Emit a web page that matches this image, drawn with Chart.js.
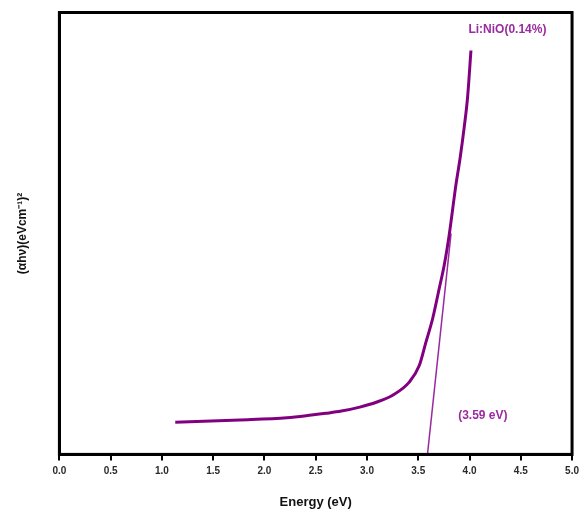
<!DOCTYPE html>
<html>
<head>
<meta charset="utf-8">
<script src="https://cdn.jsdelivr.net/npm/chart.js@4"></script>
<style>
html,body{margin:0;padding:0;background:#fff;}
#wrap{width:584px;height:514px;position:relative;}
</style>
</head>
<body>
<div id="wrap"><canvas id="c" width="584" height="514"></canvas></div>
<script>
// Energy (eV) and (αhν)^2 in arbitrary units
const energy = [1.13, 1.76, 2.22, 2.46, 2.60, 2.75, 2.93, 3.09, 3.25, 3.41, 3.51, 3.575, 3.64, 3.705, 3.754, 3.80, 3.868, 3.909, 3.948, 3.981, 4.014];
const absorb = [7.3, 7.8, 8.3, 8.9, 9.3, 9.8, 10.7, 11.8, 13.4, 16.3, 20.1, 25.4, 30.7, 37.6, 42.9, 49.4, 61.1, 67.2, 74.0, 80.8, 91.4];
const tangentX = [3.59, 3.82];
const tangentY = [0, 50];
const xTicks = [0, 0.5, 1, 1.5, 2, 2.5, 3, 3.5, 4, 4.5, 5];
const seriesLabel = 'Li:NiO(0.14%)';
const gapLabel = '(3.59 eV)';

const purple = '#800080';
const FONT = "'Liberation Sans', Arial, sans-serif";

const boxPlugin = {
  id: 'box',
  afterDraw(chart) {
    const {ctx, chartArea: a, scales} = chart;
    ctx.save();
    ctx.strokeStyle = '#000';
    ctx.lineWidth = 3;
    ctx.strokeRect(a.left, a.top, a.right - a.left, a.bottom - a.top);
    ctx.fillStyle = '#9a2aa0';
    ctx.font = 'bold 12px ' + FONT;
    ctx.textAlign = 'center';
    ctx.textBaseline = 'middle';
    ctx.fillText(seriesLabel, scales.x.getPixelForValue(4.37), scales.y.getPixelForValue(96));
    ctx.fillText(gapLabel, scales.x.getPixelForValue(4.13), scales.y.getPixelForValue(8.8));
    ctx.restore();
  }
};

new Chart(document.getElementById('c'), {
  type: 'scatter',
  data: {
    datasets: [
      {
        label: seriesLabel,
        data: energy.map((x, i) => ({x, y: absorb[i]})),
        showLine: true,
        borderColor: purple,
        borderWidth: 3,
        pointRadius: 0,
        cubicInterpolationMode: 'monotone'
      },
      {
        label: 'tangent',
        data: tangentX.map((x, i) => ({x, y: tangentY[i]})),
        showLine: true,
        borderColor: '#9a2aa0',
        borderWidth: 1.5,
        pointRadius: 0
      }
    ]
  },
  options: {
    responsive: false,
    animation: false,
    layout: {padding: {left: 0, right: 11, top: 12.5, bottom: 4}},
    plugins: {legend: {display: false}, tooltip: {enabled: false}},
    scales: {
      x: {
        type: 'linear', min: 0, max: 5,
        afterBuildTicks: (s) => { s.ticks = xTicks.map(v => ({value: v})); },
        ticks: {
          color: '#2a2a2a', font: {family: FONT, size: 10, weight: 'bold'},
          padding: 5, maxRotation: 0,
          callback: (v) => Number(v).toFixed(1)
        },
        grid: {drawOnChartArea: false, color: '#000', lineWidth: 2, tickLength: 6},
        border: {color: '#000', width: 3},
        title: {display: true, text: 'Energy (eV)', color: '#111', font: {family: FONT, size: 13, weight: 'bold'}, padding: {top: 12, bottom: 0}}
      },
      y: {
        type: 'linear', min: 0, max: 100,
        ticks: {display: false},
        grid: {display: false, drawTicks: false},
        border: {color: '#000', width: 3},
        title: {display: true, text: '(αhν)(eVcm⁻¹)²', color: '#111', font: {family: FONT, size: 12, weight: 'bold'}, padding: {top: 15, bottom: 30}}
      }
    }
  },
  plugins: [boxPlugin]
});
</script>
</body>
</html>
